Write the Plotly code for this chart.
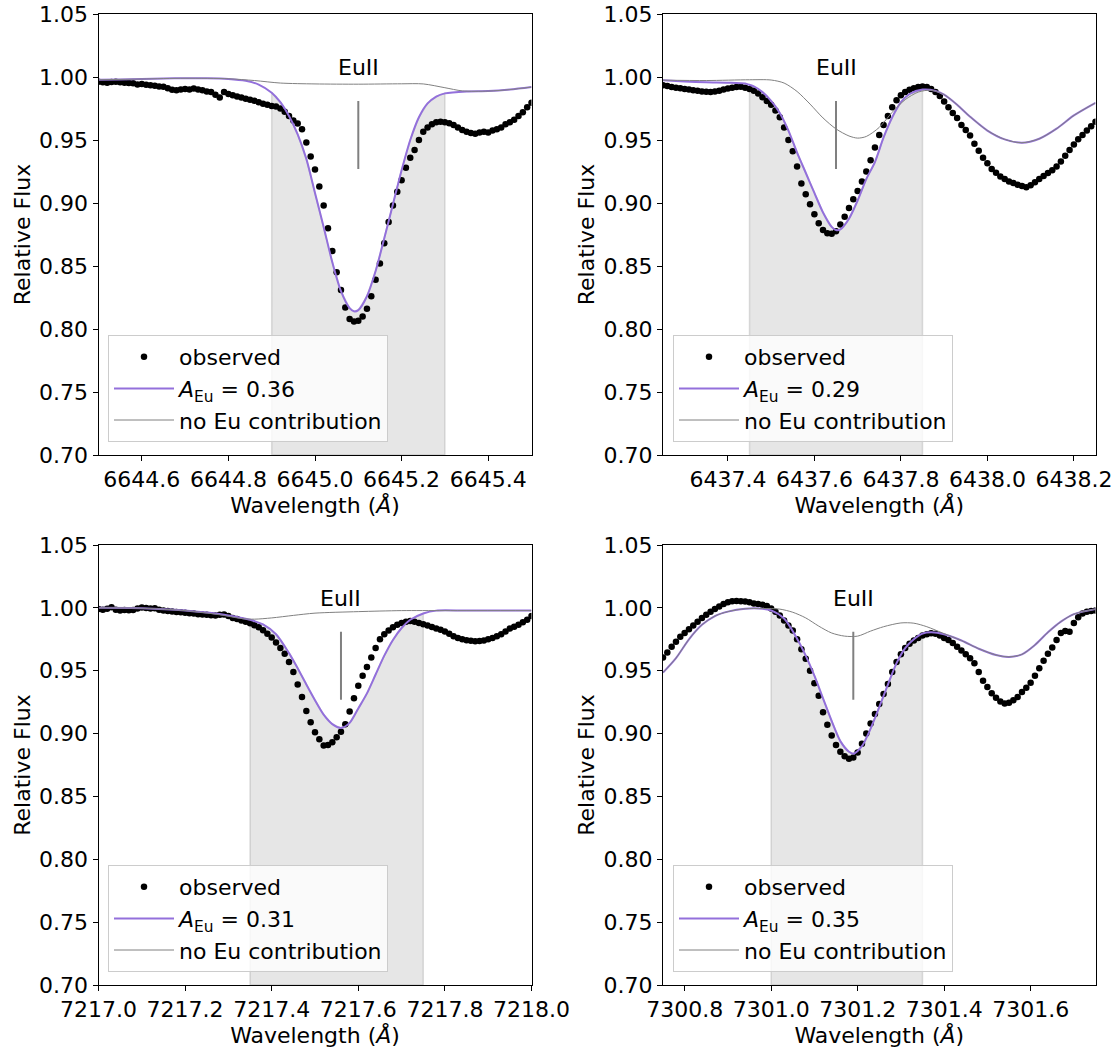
import numpy as np
import plotly.graph_objects as go

# ---------------- DATA ----------------
# Observed spectra: regular wavelength sampling (start, step) + flux values
obs_step = 0.01
obs1_start = 6644.50
obs1_flux = [0.9963, 0.9958, 0.9955, 0.9960, 0.9962, 0.9958, 0.9955, 0.9952, 0.9950, 0.9940,
             0.9945, 0.9938, 0.9935, 0.9930, 0.9925, 0.9922, 0.9910, 0.9898, 0.9895, 0.9900,
             0.9905, 0.9900, 0.9908, 0.9900, 0.9895, 0.9885, 0.9880, 0.9860, 0.9838, 0.9880,
             0.9865, 0.9855, 0.9845, 0.9838, 0.9828, 0.9820, 0.9812, 0.9800, 0.9788, 0.9780,
             0.9770, 0.9765, 0.9750, 0.9725, 0.9690, 0.9655, 0.9630, 0.9585, 0.9480, 0.9370,
             0.9265, 0.9130, 0.8980, 0.8800, 0.8620, 0.8450, 0.8310, 0.8170, 0.8080, 0.8060,
             0.8065, 0.8100, 0.8160, 0.8260, 0.8390, 0.8520, 0.8680, 0.8850, 0.8980, 0.9090,
             0.9180, 0.9280, 0.9360, 0.9420, 0.9500, 0.9565, 0.9600, 0.9625, 0.9640, 0.9645,
             0.9640, 0.9632, 0.9620, 0.9600, 0.9580, 0.9565, 0.9555, 0.9550, 0.9560, 0.9565,
             0.9560, 0.9575, 0.9585, 0.9600, 0.9625, 0.9640, 0.9660, 0.9690, 0.9720, 0.9760,
             0.9795]
obs2_start = 6437.25
obs2_flux = [0.9935, 0.9928, 0.9920, 0.9915, 0.9910, 0.9905, 0.9900, 0.9895, 0.9890, 0.9885,
             0.9882, 0.9880, 0.9885, 0.9890, 0.9900, 0.9908, 0.9915, 0.9920, 0.9922, 0.9915,
             0.9905, 0.9890, 0.9870, 0.9840, 0.9810, 0.9780, 0.9735, 0.9680, 0.9600, 0.9500,
             0.9410, 0.9290, 0.9155, 0.9070, 0.8990, 0.8910, 0.8840, 0.8785, 0.8760, 0.8755,
             0.8775, 0.8830, 0.8890, 0.8960, 0.9030, 0.9095, 0.9170, 0.9250, 0.9340, 0.9440,
             0.9540, 0.9620, 0.9690, 0.9760, 0.9815, 0.9855, 0.9880, 0.9898, 0.9910, 0.9920,
             0.9925, 0.9920, 0.9905, 0.9880, 0.9850, 0.9805, 0.9760, 0.9715, 0.9675, 0.9620,
             0.9580, 0.9535, 0.9470, 0.9415, 0.9360, 0.9315, 0.9270, 0.9240, 0.9210, 0.9190,
             0.9170, 0.9158, 0.9145, 0.9135, 0.9125, 0.9140, 0.9165, 0.9190, 0.9215, 0.9238,
             0.9260, 0.9290, 0.9330, 0.9375, 0.9420, 0.9465, 0.9505, 0.9540, 0.9575, 0.9610,
             0.9645]
obs3_start = 7217.00
obs3_flux = [0.9990, 0.9985, 0.9992, 1.0005, 0.9985, 0.9978, 0.9982, 0.9980, 0.9982, 0.9995,
             1.0002, 0.9998, 0.9995, 0.9997, 0.9985, 0.9978, 0.9975, 0.9972, 0.9968, 0.9965,
             0.9962, 0.9958, 0.9955, 0.9950, 0.9948, 0.9945, 0.9942, 0.9940, 0.9945, 0.9948,
             0.9935, 0.9920, 0.9912, 0.9900, 0.9890, 0.9878, 0.9862, 0.9845, 0.9822, 0.9795,
             0.9765, 0.9725, 0.9680, 0.9635, 0.9570, 0.9490, 0.9390, 0.9290, 0.9180, 0.9090,
             0.9010, 0.8955, 0.8905, 0.8910, 0.8930, 0.8970, 0.9015, 0.9075, 0.9175, 0.9280,
             0.9380, 0.9460, 0.9530, 0.9605, 0.9680, 0.9750, 0.9790, 0.9820, 0.9845, 0.9865,
             0.9880, 0.9890, 0.9895, 0.9890, 0.9880, 0.9870, 0.9860, 0.9848, 0.9835, 0.9825,
             0.9812, 0.9795, 0.9775, 0.9760, 0.9750, 0.9742, 0.9738, 0.9735, 0.9737, 0.9740,
             0.9750, 0.9760, 0.9775, 0.9790, 0.9812, 0.9835, 0.9850, 0.9865, 0.9885, 0.9905,
             0.9935]
obs4_start = 7300.75
obs4_flux = [0.9605, 0.9645, 0.9690, 0.9730, 0.9770, 0.9800, 0.9830, 0.9860, 0.9890, 0.9920,
             0.9945, 0.9970, 0.9990, 1.0010, 1.0030, 1.0045, 1.0052, 1.0055, 1.0052, 1.0050,
             1.0045, 1.0035, 1.0030, 1.0025, 1.0015, 0.9995, 0.9970, 0.9940, 0.9900, 0.9860,
             0.9820, 0.9750, 0.9670, 0.9595, 0.9500, 0.9400, 0.9300, 0.9170, 0.9070, 0.8985,
             0.8910, 0.8855, 0.8820, 0.8800, 0.8810, 0.8850, 0.8920, 0.9000, 0.9080, 0.9155,
             0.9235, 0.9315, 0.9395, 0.9490, 0.9570, 0.9630, 0.9680, 0.9715, 0.9740, 0.9760,
             0.9780, 0.9790, 0.9798, 0.9795, 0.9780, 0.9760, 0.9745, 0.9720, 0.9690, 0.9660,
             0.9630, 0.9600, 0.9560, 0.9490, 0.9420, 0.9370, 0.9320, 0.9285, 0.9255, 0.9240,
             0.9245, 0.9265, 0.9290, 0.9330, 0.9365, 0.9405, 0.9460, 0.9520, 0.9580, 0.9635,
             0.9685, 0.9745, 0.9800, 0.9815, 0.9810, 0.9880, 0.9925, 0.9955, 0.9970, 0.9975,
             0.9978]

# Synthetic spectra with the fitted Eu abundance
fit1_wave = [6644.50, 6644.55, 6644.60, 6644.65, 6644.70, 6644.75, 6644.80, 6644.84, 6644.87, 6644.90,
             6644.92, 6644.94, 6644.96, 6644.98, 6645.00, 6645.02, 6645.04, 6645.06, 6645.08, 6645.09,
             6645.10, 6645.12, 6645.14, 6645.16, 6645.18, 6645.20, 6645.22, 6645.24, 6645.26, 6645.28,
             6645.30, 6645.35, 6645.40, 6645.45, 6645.50]
fit1_flux = [0.9978, 0.9980, 0.9984, 0.9988, 0.9990, 0.9990, 0.9985, 0.9970, 0.9940, 0.9875,
             0.9800, 0.9690, 0.9545, 0.9350, 0.9080, 0.8810, 0.8530, 0.8300, 0.8165, 0.8140,
             0.8150, 0.8260, 0.8460, 0.8720, 0.8990, 0.9260, 0.9500, 0.9680, 0.9790, 0.9845,
             0.9870, 0.9885, 0.9888, 0.9900, 0.9920]
fit2_wave = [6437.25, 6437.30, 6437.35, 6437.40, 6437.44, 6437.45, 6437.46, 6437.48, 6437.50, 6437.52,
             6437.54, 6437.56, 6437.58, 6437.60, 6437.62, 6437.64, 6437.65, 6437.66, 6437.68, 6437.70,
             6437.72, 6437.74, 6437.76, 6437.78, 6437.80, 6437.82, 6437.85, 6437.88, 6437.90, 6437.93,
             6437.96, 6438.00, 6438.04, 6438.08, 6438.12, 6438.16, 6438.20, 6438.25]
fit2_flux = [0.9975, 0.9965, 0.9958, 0.9955, 0.9948, 0.9938, 0.9925, 0.9880, 0.9810, 0.9715,
             0.9575, 0.9400, 0.9240, 0.9080, 0.8925, 0.8810, 0.8785, 0.8790, 0.8875, 0.9020,
             0.9190, 0.9325, 0.9520, 0.9680, 0.9800, 0.9865, 0.9900, 0.9890, 0.9860, 0.9780,
             0.9685, 0.9575, 0.9505, 0.9478, 0.9510, 0.9590, 0.9695, 0.9795]
fit3_wave = [7217.00, 7217.10, 7217.20, 7217.30, 7217.35, 7217.38, 7217.41, 7217.44, 7217.46, 7217.48,
             7217.50, 7217.52, 7217.54, 7217.56, 7217.58, 7217.60, 7217.62, 7217.64, 7217.66, 7217.68,
             7217.70, 7217.72, 7217.75, 7217.78, 7217.85, 7218.00]
fit3_flux = [1.0000, 0.9997, 0.9978, 0.9940, 0.9905, 0.9868, 0.9790, 0.9640, 0.9520, 0.9390,
             0.9265, 0.9150, 0.9075, 0.9045, 0.9085, 0.9200, 0.9320, 0.9470, 0.9620, 0.9745,
             0.9840, 0.9905, 0.9955, 0.9978, 0.9978, 0.9978]
fit4_wave = [7300.75, 7300.78, 7300.81, 7300.84, 7300.87, 7300.90, 7300.94, 7300.98, 7301.00, 7301.03,
             7301.06, 7301.08, 7301.10, 7301.12, 7301.14, 7301.16, 7301.18, 7301.19, 7301.21, 7301.23,
             7301.25, 7301.27, 7301.29, 7301.31, 7301.33, 7301.35, 7301.37, 7301.40, 7301.44, 7301.48,
             7301.52, 7301.55, 7301.58, 7301.61, 7301.64, 7301.67, 7301.70, 7301.75]
fit4_flux = [0.9485, 0.9600, 0.9750, 0.9865, 0.9935, 0.9970, 0.9993, 0.9993, 0.9980, 0.9915,
             0.9755, 0.9620, 0.9460, 0.9280, 0.9100, 0.8940, 0.8855, 0.8840, 0.8900, 0.9040,
             0.9210, 0.9390, 0.9560, 0.9680, 0.9750, 0.9795, 0.9805, 0.9790, 0.9740, 0.9675,
             0.9625, 0.9610, 0.9630, 0.9705, 0.9805, 0.9890, 0.9950, 0.9990]

# Synthetic spectra without Eu
noeu1_wave = [6644.50, 6644.60, 6644.70, 6644.80, 6644.86, 6644.92, 6645.00, 6645.10, 6645.20, 6645.25,
              6645.30, 6645.34, 6645.40, 6645.45, 6645.50]
noeu1_flux = [0.9978, 0.9984, 0.9990, 0.9986, 0.9972, 0.9952, 0.9945, 0.9943, 0.9946, 0.9945,
              0.9915, 0.9890, 0.9888, 0.9900, 0.9920]
noeu2_wave = [6437.25, 6437.35, 6437.45, 6437.50, 6437.53, 6437.56, 6437.59, 6437.62, 6437.65, 6437.68,
              6437.70, 6437.72, 6437.75, 6437.78, 6437.81, 6437.84, 6437.87, 6437.90, 6437.93, 6437.96,
              6438.00, 6438.04, 6438.08, 6438.12, 6438.16, 6438.20, 6438.25]
noeu2_flux = [0.9975, 0.9972, 0.9978, 0.9976, 0.9952, 0.9885, 0.9785, 0.9675, 0.9588, 0.9532,
              0.9515, 0.9528, 0.9600, 0.9720, 0.9820, 0.9880, 0.9895, 0.9860, 0.9780, 0.9685,
              0.9575, 0.9505, 0.9478, 0.9510, 0.9590, 0.9695, 0.9795]
noeu3_wave = [7217.00, 7217.10, 7217.20, 7217.28, 7217.33, 7217.36, 7217.40, 7217.45, 7217.50, 7217.60,
              7217.70, 7217.80, 7218.00]
noeu3_flux = [1.0000, 0.9997, 0.9978, 0.9945, 0.9915, 0.9910, 0.9920, 0.9940, 0.9958, 0.9970,
              0.9978, 0.9978, 0.9978]
noeu4_wave = [7300.75, 7300.78, 7300.81, 7300.84, 7300.87, 7300.90, 7300.94, 7300.98, 7301.02, 7301.05,
              7301.08, 7301.11, 7301.14, 7301.17, 7301.20, 7301.23, 7301.26, 7301.30, 7301.33, 7301.36,
              7301.40, 7301.44, 7301.48, 7301.52, 7301.55, 7301.58, 7301.61, 7301.64, 7301.67, 7301.70,
              7301.75]
noeu4_flux = [0.9485, 0.9600, 0.9750, 0.9865, 0.9935, 0.9970, 0.9993, 0.9995, 0.9990, 0.9965,
              0.9920, 0.9855, 0.9800, 0.9775, 0.9775, 0.9815, 0.9850, 0.9880, 0.9878, 0.9850,
              0.9795, 0.9740, 0.9675, 0.9625, 0.9610, 0.9630, 0.9705, 0.9805, 0.9890, 0.9950,
              0.9990]

abundances = ["0.36", "0.29", "0.31", "0.35"]
eu_line_wave = [6645.10, 6437.65, 7217.56, 7301.19]
window_lo = [6644.90, 6437.45, 7217.35, 7301.00]
window_hi = [6645.30, 6437.85, 7217.75, 7301.35]
x_lo = [6644.5, 6437.25, 7217.0, 7300.75]
x_hi = [6645.5, 6438.25, 7218.0, 7301.75]
x_tick0 = [6644.6, 6437.4, 7217.0, 7300.8]

# ---------------- FIGURE ----------------
W, H = 1116, 1049
FONT = "DejaVu Sans"
FS = 22
PURPLE = "#9370DB"
GREY = "#808080"
Y_FLOOR = 0.70

obs_sets = [(obs1_start, obs1_flux), (obs2_start, obs2_flux), (obs3_start, obs3_flux), (obs4_start, obs4_flux)]
fit_sets = [(fit1_wave, fit1_flux), (fit2_wave, fit2_flux), (fit3_wave, fit3_flux), (fit4_wave, fit4_flux)]
noeu_sets = [(noeu1_wave, noeu1_flux), (noeu2_wave, noeu2_flux), (noeu3_wave, noeu3_flux), (noeu4_wave, noeu4_flux)]

# panel pixel boxes (left, right, top, bottom)
boxes = [(98.5, 531.5, 14, 455), (663, 1095.5, 14, 455),
         (98.5, 531.5, 545, 985), (663, 1095.5, 545, 985)]
legend_pos = [(108, 442), (673, 442), (108, 972), (673, 972)]

fig = go.Figure()
layout = {}
for i in range(4):
    n = i + 1
    xa = "x" if n == 1 else f"x{n}"
    ya = "y" if n == 1 else f"y{n}"
    lg = "legend" if n == 1 else f"legend{n}"
    fw, ff = fit_sets[i]

    # fitting window: shaded area below the fitted synthetic spectrum
    sel = [k for k in range(len(fw)) if window_lo[i] - 1e-9 <= fw[k] <= window_hi[i] + 1e-9]
    px = [fw[k] for k in sel]
    py = [ff[k] for k in sel]
    poly_x = px + [px[-1], px[0], px[0]]
    poly_y = py + [Y_FLOOR, Y_FLOOR, py[0]]
    fig.add_trace(go.Scatter(x=poly_x, y=poly_y, mode="lines", fill="toself",
                             fillcolor="rgba(128,128,128,0.2)",
                             line=dict(color="rgba(128,128,128,0.25)", width=1.5),
                             hoverinfo="skip", showlegend=False, xaxis=xa, yaxis=ya))

    start, flux = obs_sets[i]
    wave = np.round(start + obs_step * np.arange(len(flux)), 3)
    fig.add_trace(go.Scatter(x=wave, y=flux, mode="markers", name="observed",
                             marker=dict(color="black", size=6.5), xaxis=xa, yaxis=ya, legend=lg))
    fig.add_trace(go.Scatter(x=fw, y=ff, mode="lines", name=f"<i>A</i><sub>Eu</sub> = {abundances[i]}",
                             line=dict(color=PURPLE, width=2, shape="spline", smoothing=0.8),
                             xaxis=xa, yaxis=ya, legend=lg))
    nw, nf = noeu_sets[i]
    fig.add_trace(go.Scatter(x=nw, y=nf, mode="lines", name="no Eu contribution",
                             line=dict(color=GREY, width=1, shape="spline", smoothing=0.8),
                             xaxis=xa, yaxis=ya, legend=lg))

    l, r, t, b = boxes[i]
    xkey = "xaxis" if n == 1 else f"xaxis{n}"
    ykey = "yaxis" if n == 1 else f"yaxis{n}"
    layout[xkey] = dict(domain=[l / W, r / W], anchor=ya, range=[x_lo[i], x_hi[i]],
                        tick0=x_tick0[i], dtick=0.2, tickformat=".1f",
                        showgrid=False, zeroline=False, showline=True, linecolor="black", linewidth=1,
                        mirror=True, ticks="outside", ticklen=5, tickcolor="black",
                        tickfont=dict(size=FS, color="black", family=FONT),
                        title=dict(text="Wavelength (<i>Å</i>)", standoff=4,
                                   font=dict(size=FS, color="black", family=FONT)),
                        automargin=False)
    layout[ykey] = dict(domain=[1 - b / H, 1 - t / H], anchor=xa, range=[0.70, 1.05],
                        tick0=0.70, dtick=0.05, tickformat=".2f",
                        showgrid=False, zeroline=False, showline=True, linecolor="black", linewidth=1,
                        mirror=True, ticks="outside", ticklen=5, tickcolor="black",
                        tickfont=dict(size=FS, color="black", family=FONT),
                        title=dict(text="Relative Flux", standoff=2,
                                   font=dict(size=FS, color="black", family=FONT)),
                        automargin=False)
    lx, lyb = legend_pos[i]
    layout[lg] = dict(x=lx / W, y=1 - lyb / H, xanchor="left", yanchor="bottom",
                      bgcolor="rgba(255,255,255,0.8)", bordercolor="#cccccc", borderwidth=1,
                      font=dict(size=FS, color="black", family=FONT), itemwidth=60,
                      entrywidth=212, entrywidthmode="pixels", tracegroupgap=0)

    # Eu line marker
    fig.add_shape(type="line", xref=xa, yref=ya, x0=eu_line_wave[i], x1=eu_line_wave[i],
                  y0=0.927, y1=0.981, line=dict(color=GREY, width=2))
    fig.add_annotation(x=eu_line_wave[i], y=1.0, xref=xa, yref=ya, text="EuII", showarrow=False,
                       yanchor="bottom", yshift=-5, font=dict(size=FS, color="black", family=FONT))

fig.update_layout(**layout)
fig.update_layout(width=W, height=H, margin=dict(l=0, r=0, t=0, b=0),
                  paper_bgcolor="white", plot_bgcolor="white",
                  font=dict(family=FONT, size=FS, color="black"), showlegend=True)

fig.write_html("out.html")
